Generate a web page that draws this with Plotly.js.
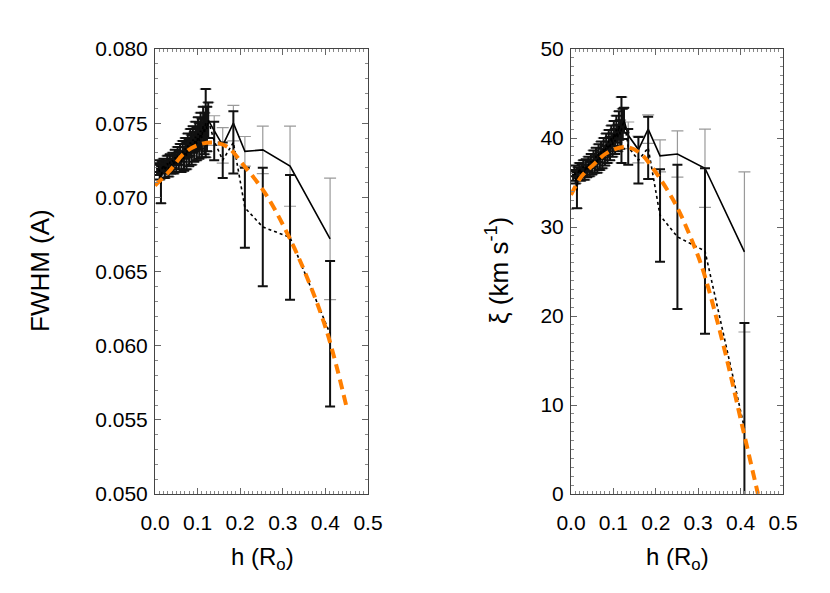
<!DOCTYPE html>
<html>
<head>
<meta charset="utf-8">
<script src="https://cdn.plot.ly/plotly-3.0.1.min.js"></script>
<style>
  html, body { margin: 0; padding: 0; background: #fff; }
  #chart { width: 830px; height: 593px; }
</style>
</head>
<body>
<div id="chart"></div>
<script>
// heights (R_o) of the dense low-altitude sample, shared by both panels
const clusterH = [0.005, 0.008, 0.011, 0.014, 0.017, 0.020, 0.023, 0.026, 0.029, 0.032,
                  0.035, 0.038, 0.041, 0.044, 0.047, 0.050, 0.053, 0.056, 0.059, 0.062,
                  0.065, 0.068, 0.071, 0.074, 0.077, 0.080, 0.083, 0.086, 0.089, 0.092,
                  0.095, 0.098, 0.101, 0.104, 0.107, 0.110, 0.113, 0.116, 0.119, 0.122, 0.125];

// left panel: FWHM (A)
const clusterFwhm = [0.0719, 0.0721, 0.0717, 0.0709, 0.0720, 0.0722, 0.0718, 0.0721, 0.0723, 0.0719,
                     0.0724, 0.0721, 0.0725, 0.0722, 0.0727, 0.0723, 0.0728, 0.0725, 0.0729, 0.0724,
                     0.0731, 0.0726, 0.0733, 0.0728, 0.0735, 0.0730, 0.0737, 0.0732, 0.0739, 0.0734,
                     0.0741, 0.0736, 0.0743, 0.0738, 0.0745, 0.0740, 0.0748, 0.0743, 0.0750, 0.0746, 0.0752];
const clusterFwhmErr = [0.0004, 0.0004, 0.0005, 0.0013, 0.0004, 0.0004, 0.0005, 0.0004, 0.0005, 0.0005,
                        0.0005, 0.0005, 0.0005, 0.0006, 0.0005, 0.0006, 0.0006, 0.0006, 0.0007, 0.0007,
                        0.0007, 0.0008, 0.0007, 0.0009, 0.0008, 0.0009, 0.0009, 0.0010, 0.0009, 0.0010,
                        0.0010, 0.0011, 0.0011, 0.0012, 0.0012, 0.0013, 0.0013, 0.0014, 0.0023, 0.0015, 0.0012];

const solidH = [0.139, 0.159, 0.184, 0.211, 0.253, 0.317, 0.411];
const solidFwhm = [0.0745, 0.0735, 0.0750, 0.0731, 0.0732, 0.0721, 0.0672];
const solidFwhmErr = [0.0010, 0.0012, 0.0012, 0.0010, 0.0016, 0.0027, 0.0041];

const dottedH = [0.139, 0.159, 0.184, 0.211, 0.253, 0.317, 0.411];
const dottedFwhm = [0.0738, 0.0725, 0.0737, 0.0693, 0.0680, 0.0673, 0.0608];
const dottedFwhmErr = [0.0013, 0.0012, 0.0021, 0.0027, 0.0040, 0.0042, 0.0049];

const fitFwhmH = [0, 0.035, 0.066, 0.098, 0.136, 0.17, 0.207, 0.258, 0.31, 0.357, 0.404, 0.451];
const fitFwhm = [0.0708, 0.0718, 0.0729, 0.0735, 0.0737, 0.0734, 0.0722, 0.0703, 0.0676, 0.0646, 0.0609, 0.0557];

// right panel: xi (km/s)
const clusterXi = [35.8, 36.3, 35.6, 34.1, 36.1, 36.6, 35.9, 36.4, 36.8, 36.0,
                   36.9, 36.3, 37.1, 36.5, 37.4, 36.7, 37.7, 37.0, 38.0, 37.1,
                   38.3, 37.4, 38.6, 37.7, 38.9, 38.0, 39.3, 38.4, 39.7, 38.8,
                   40.1, 39.2, 40.5, 39.6, 41.0, 40.0, 41.4, 40.4, 40.9, 41.6, 42.0];
const clusterXiErr = [0.6, 0.6, 0.7, 2.0, 0.6, 0.6, 0.7, 0.6, 0.7, 0.7,
                      0.7, 0.7, 0.8, 0.8, 0.8, 0.8, 0.9, 0.9, 0.9, 1.0,
                      1.0, 1.0, 1.0, 1.1, 1.1, 1.1, 1.2, 1.2, 1.2, 1.3,
                      1.3, 1.3, 1.4, 1.4, 1.5, 1.5, 1.6, 1.6, 3.7, 1.7, 1.4];

const solidXiH = [0.135, 0.159, 0.182, 0.210, 0.251, 0.316, 0.409];
const solidXi = [40.3, 38.7, 41.0, 38.0, 38.2, 36.6, 27.2];
const solidXiErr = [1.5, 1.5, 1.6, 1.8, 2.6, 4.4, 9.0];

const dottedXiH = [0.135, 0.159, 0.182, 0.210, 0.251, 0.316, 0.409];
const dottedXi = [39.0, 37.5, 38.9, 31.3, 28.9, 27.3, 7.4];
const dottedXiErr = [2.0, 2.6, 3.5, 5.2, 8.1, 9.3, 11.8];

const fitXiH = [0, 0.025, 0.053, 0.084, 0.127, 0.163, 0.193, 0.245, 0.285, 0.311, 0.358, 0.406, 0.441];
const fitXi = [33.6, 35.7, 37.0, 38.3, 39.0, 38.3, 36.6, 32.7, 28.5, 25.2, 17.0, 7.2, 0];

const FONT = 'Liberation Sans, Arial, sans-serif';
const ORANGE = '#FF7F00';

function panelTraces(xa, ya, cH, cV, cE, sH, sV, sE, dH, dV, dE, fH, fV) {
    return [
        {   // solid line, thin grey error bars
            x: cH.concat(sH), y: cV.concat(sV), xaxis: xa, yaxis: ya,
            mode: 'lines', line: { color: '#000', width: 1.6 },
            error_y: { type: 'data', array: cE.concat(sE), color: '#9a9a9a', thickness: 1.2, width: 6 },
            hoverinfo: 'skip'
        },
        {   // dotted line, black error bars
            x: cH.concat(dH), y: cV.concat(dV), xaxis: xa, yaxis: ya,
            mode: 'lines', line: { color: '#000', width: 1.6, dash: 'dot' },
            error_y: { type: 'data', array: cE.concat(dE), color: '#111', thickness: 2, width: 5 },
            hoverinfo: 'skip'
        },
        {   // fit
            x: fH, y: fV, xaxis: xa, yaxis: ya,
            mode: 'lines', line: { color: ORANGE, width: 4, dash: '10px,6px', shape: 'spline' },
            hoverinfo: 'skip'
        }
    ];
}

const data = [].concat(
    panelTraces('x', 'y', clusterH, clusterFwhm, clusterFwhmErr, solidH, solidFwhm, solidFwhmErr,
                dottedH, dottedFwhm, dottedFwhmErr, fitFwhmH, fitFwhm),
    panelTraces('x2', 'y2', clusterH, clusterXi, clusterXiErr, solidXiH, solidXi, solidXiErr,
                dottedXiH, dottedXi, dottedXiErr, fitXiH, fitXi)
);

const axisBase = {
    showline: true, linecolor: '#444', linewidth: 1, mirror: 'ticks',
    ticks: 'inside', ticklen: 6, tickcolor: '#666', tickwidth: 1,
    showgrid: false, zeroline: false, fixedrange: true,
    tickfont: { family: FONT, size: 21, color: '#000' }
};

const xAxis = (domain) => Object.assign({}, axisBase, {
    domain: domain, range: [0, 0.5], dtick: 0.1, tick0: 0, tickformat: '.1f',
    ticklabelstandoff: 10,
    minor: { ticks: 'inside', ticklen: 3, dtick: 0.01, tickcolor: '#888' }
});

const yDomain = [99 / 593, 544 / 593];

const layout = {
    width: 830, height: 593,
    margin: { l: 0, r: 0, t: 0, b: 0 },
    paper_bgcolor: '#fff', plot_bgcolor: '#fff',
    showlegend: false,
    font: { family: FONT, color: '#000' },
    xaxis: Object.assign(xAxis([155 / 830, 368 / 830]), { anchor: 'y' }),
    xaxis2: Object.assign(xAxis([571 / 830, 783 / 830]), { anchor: 'y2' }),
    yaxis: Object.assign({}, axisBase, {
        domain: yDomain, anchor: 'x', range: [0.05, 0.08], dtick: 0.005, tick0: 0.05,
        tickformat: '.3f', ticklabelstandoff: 2,
        minor: { ticks: 'inside', ticklen: 3, dtick: 0.001, tickcolor: '#888' }
    }),
    yaxis2: Object.assign({}, axisBase, {
        domain: yDomain, anchor: 'x2', range: [0, 50], dtick: 10, tick0: 0,
        ticklabelstandoff: 2,
        minor: { ticks: 'inside', ticklen: 3, dtick: 1, tickcolor: '#888' }
    }),
    annotations: [
        { text: 'FWHM (A)', xref: 'paper', yref: 'paper', x: 40 / 830, y: 1 - 271 / 593,
          textangle: -90, showarrow: false, xanchor: 'center', yanchor: 'middle',
          font: { family: FONT, size: 26 } },
        { text: 'ξ (km s<sup>-1</sup>)', xref: 'paper', yref: 'paper', x: 497 / 830, y: 1 - 271 / 593,
          textangle: -90, showarrow: false, xanchor: 'center', yanchor: 'middle',
          font: { family: FONT, size: 26 } },
        { text: 'h (R<sub>o</sub>)', xref: 'paper', yref: 'paper', x: 262 / 830, y: 1 - 558 / 593,
          showarrow: false, xanchor: 'center', yanchor: 'middle',
          font: { family: FONT, size: 24 } },
        { text: 'h (R<sub>o</sub>)', xref: 'paper', yref: 'paper', x: 677 / 830, y: 1 - 558 / 593,
          showarrow: false, xanchor: 'center', yanchor: 'middle',
          font: { family: FONT, size: 24 } }
    ]
};

Plotly.newPlot('chart', data, layout, { displayModeBar: false, staticPlot: true });
</script>
</body>
</html>
